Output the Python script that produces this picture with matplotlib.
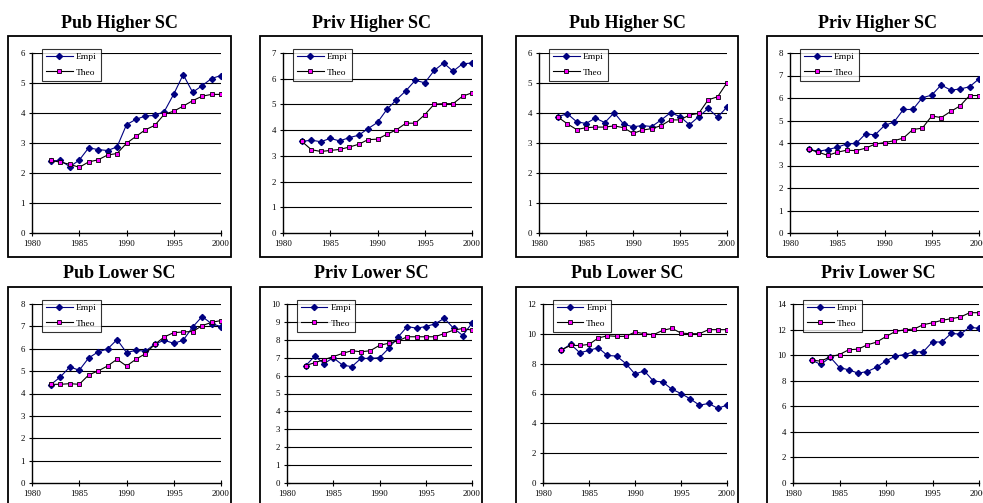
import matplotlib
matplotlib.use("Agg")
import matplotlib.pyplot as plt
from matplotlib.patches import Rectangle

plt.rcParams['font.family'] = ['Liberation Serif', 'DejaVu Serif']

years = list(range(1982, 2001))

titles = ["Pub Higher SC", "Priv Higher SC", "Pub Higher SC", "Priv Higher SC",
          "Pub Lower SC", "Priv Lower SC", "Pub Lower SC", "Priv Lower SC"]

# empirical series, one per panel (left to right, top row then bottom row)
empi_pub_hi_a = [2.40, 2.42, 2.21, 2.43, 2.84, 2.78, 2.75, 2.87, 3.61, 3.79,
                 3.90, 3.92, 4.05, 4.63, 5.28, 4.69, 4.91, 5.15, 5.25]
empi_priv_hi_a = [3.56, 3.61, 3.55, 3.68, 3.58, 3.71, 3.80, 4.06, 4.30, 4.81,
                  5.18, 5.53, 5.94, 5.84, 6.32, 6.61, 6.29, 6.58, 6.61]
empi_pub_hi_b = [3.87, 3.98, 3.71, 3.65, 3.83, 3.68, 4.01, 3.63, 3.54, 3.58,
                 3.55, 3.77, 4.01, 3.88, 3.61, 3.88, 4.15, 3.86, 4.20]
empi_priv_hi_b = [3.72, 3.63, 3.71, 3.81, 3.96, 3.98, 4.41, 4.36, 4.78, 4.93,
                  5.49, 5.49, 6.01, 6.13, 6.58, 6.35, 6.40, 6.50, 6.85]
empi_pub_lo_a = [4.40, 4.74, 5.19, 5.04, 5.59, 5.86, 5.99, 6.41, 5.83, 5.93,
                 5.89, 6.21, 6.38, 6.24, 6.38, 6.97, 7.44, 7.12, 6.99]
empi_priv_lo_a = [6.54, 7.09, 6.67, 7.00, 6.59, 6.50, 6.96, 6.96, 7.00, 7.52,
                  8.15, 8.74, 8.65, 8.74, 8.89, 9.20, 8.65, 8.24, 8.93]
empi_pub_lo_b = [8.89, 9.31, 8.73, 8.89, 9.07, 8.55, 8.51, 8.01, 7.30, 7.52,
                 6.83, 6.78, 6.29, 6.00, 5.64, 5.22, 5.33, 5.01, 5.22]
empi_priv_lo_b = [9.61, 9.27, 9.84, 9.03, 8.85, 8.59, 8.72, 9.06, 9.56, 9.92,
                  10.05, 10.26, 10.26, 11.04, 11.02, 11.70, 11.64, 12.19, 12.09]

# theoretical series
theo_pub_hi_a = [2.42, 2.36, 2.29, 2.19, 2.37, 2.44, 2.60, 2.65, 2.99, 3.22,
                 3.44, 3.59, 3.96, 4.06, 4.23, 4.41, 4.56, 4.62, 4.62]
theo_priv_hi_a = [3.56, 3.24, 3.17, 3.21, 3.25, 3.34, 3.45, 3.63, 3.65, 3.84,
                  4.01, 4.27, 4.27, 4.60, 5.01, 5.03, 5.03, 5.32, 5.45]
theo_pub_hi_b = [3.87, 3.64, 3.45, 3.51, 3.53, 3.53, 3.57, 3.51, 3.32, 3.43,
                 3.48, 3.58, 3.77, 3.77, 3.93, 3.99, 4.44, 4.54, 5.01]
theo_priv_hi_b = [3.72, 3.59, 3.45, 3.59, 3.68, 3.66, 3.77, 3.95, 4.02, 4.10,
                  4.22, 4.60, 4.66, 5.20, 5.13, 5.40, 5.65, 6.11, 6.11]
theo_pub_lo_a = [4.41, 4.41, 4.44, 4.41, 4.83, 5.01, 5.23, 5.53, 5.23, 5.53,
                 5.78, 6.20, 6.53, 6.72, 6.75, 6.77, 7.03, 7.18, 7.26]
theo_priv_lo_a = [6.56, 6.72, 6.89, 7.06, 7.24, 7.39, 7.33, 7.39, 7.69, 7.81,
                  7.94, 8.17, 8.17, 8.17, 8.17, 8.35, 8.54, 8.63, 8.54]
theo_pub_lo_b = [8.93, 9.22, 9.22, 9.29, 9.72, 9.87, 9.83, 9.83, 10.12, 10.01,
                 9.94, 10.23, 10.37, 10.05, 10.01, 10.01, 10.28, 10.28, 10.28]
theo_priv_lo_b = [9.61, 9.53, 9.87, 10.05, 10.42, 10.47, 10.81, 11.02, 11.46, 11.85,
                  11.98, 12.04, 12.38, 12.53, 12.72, 12.85, 12.98, 13.32, 13.32]

empi = [empi_pub_hi_a, empi_priv_hi_a, empi_pub_hi_b, empi_priv_hi_b,
        empi_pub_lo_a, empi_priv_lo_a, empi_pub_lo_b, empi_priv_lo_b]
theo = [theo_pub_hi_a, theo_priv_hi_a, theo_pub_hi_b, theo_priv_hi_b,
        theo_pub_lo_a, theo_priv_lo_a, theo_pub_lo_b, theo_priv_lo_b]

y_max = [6, 7, 6, 8, 8, 10, 12, 14]
y_step = [1, 1, 1, 1, 1, 1, 2, 2]

W, H = 983, 503
fig = plt.figure(figsize=(W / 100, H / 100), dpi=100)


def fx(px):
    return px / W


def fy(px):
    return 1 - px / H


# plot area extents in pixels (left, right) per panel, and (top, bottom) per row
plot_x = [(32, 221), (283, 472), (539, 727), (790, 979),
          (32, 221), (287, 472), (543, 727), (793, 979)]
plot_y = [(53, 233), (304, 483)]
box_x = [(8, 231), (260, 482), (516, 738), (767, 989)]
box_y = [(36, 257), (287, 520)]
title_y = [23, 273]

for i in range(8):
    row, col = divmod(i, 4)
    x0, x1 = plot_x[i]
    y0, y1 = plot_y[row]
    ax = fig.add_axes([fx(x0), fy(y1), fx(x1) - fx(x0), fy(y0) - fy(y1)])

    # chart-area border
    bx0, bx1 = box_x[col]
    by0, by1 = box_y[row]
    fig.patches.append(Rectangle((fx(bx0), fy(by1)), fx(bx1) - fx(bx0), fy(by0) - fy(by1),
                                 transform=fig.transFigure, fill=False,
                                 edgecolor='black', linewidth=1.3))
    fig.text(fx((bx0 + bx1) / 2), fy(title_y[row]), titles[i], ha='center', va='center',
             fontsize=13, fontweight='bold')

    ax.plot(years, empi[i], color='#000080', linewidth=0.8, marker='D',
            markersize=3.1, markerfacecolor='#000080', markeredgecolor='#000080',
            label='Empi', zorder=3)
    ax.plot(years, theo[i], color='black', linewidth=0.8, marker='s',
            markersize=3.3, markerfacecolor='#ff00ff', markeredgecolor='black',
            markeredgewidth=0.6, label='Theo', zorder=3)

    ax.set_xlim(1980, 2000)
    ax.set_ylim(0, y_max[i])
    ax.set_xticks(range(1980, 2001, 5))
    ax.set_yticks(range(0, y_max[i] + 1, y_step[i]))
    for t in range(y_step[i], y_max[i] + 1, y_step[i]):
        ax.axhline(t, color='black', linewidth=0.8, zorder=1)

    for s in ['top', 'right']:
        ax.spines[s].set_visible(False)
    ax.spines['left'].set_linewidth(1.0)
    ax.spines['bottom'].set_linewidth(1.0)
    ax.tick_params(axis='both', direction='inout', length=4, width=0.8,
                   labelsize=6.3, pad=3)

    leg = ax.legend(loc='upper left', bbox_to_anchor=(0.053, 1.025), borderaxespad=0,
                    fontsize=6.8, frameon=True, fancybox=False, handlelength=2.8,
                    handletextpad=0.3, borderpad=0.45, labelspacing=0.7)
    leg.get_frame().set_edgecolor('black')
    leg.get_frame().set_linewidth(0.8)
    leg.set_zorder(5)

fig.savefig("out.png", dpi=100)
